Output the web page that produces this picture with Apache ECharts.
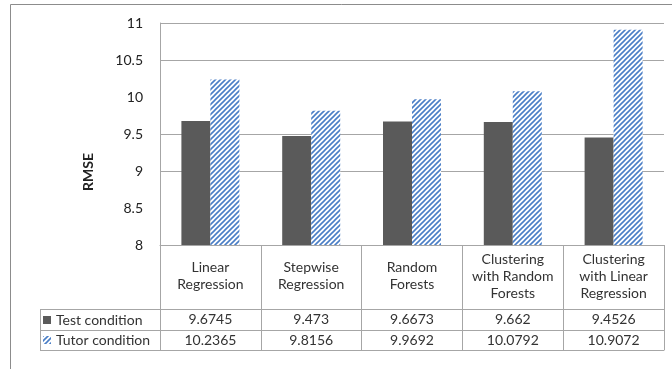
<!DOCTYPE html>
<html>
<head>
<meta charset="utf-8">
<script src="https://cdn.jsdelivr.net/npm/echarts@6/dist/echarts.min.js"></script>
<style>
  html, body { margin: 0; padding: 0; background: #fff; }
  #chart { width: 672px; height: 369px; }
</style>
</head>
<body>
<div id="chart"></div>
<script>
// Model names (label row of the data table)
const categories = [
  'Linear\nRegression',
  'Stepwise\nRegression',
  'Random\nForests',
  'Clustering\nwith Random\nForests',
  'Clustering\nwith Linear\nRegression'
];
const seriesNames = ['Test condition', 'Tutor condition'];
// RMSE per model
const testValues = [9.6745, 9.473, 9.6673, 9.662, 9.4526];
const tutorValues = [10.2365, 9.8156, 9.9692, 10.0792, 10.9072];
const valueText = [
  ['9.6745', '9.473', '9.6673', '9.662', '9.4526'],
  ['10.2365', '9.8156', '9.9692', '10.0792', '10.9072']
];
const yTicks = { min: 8, max: 11, step: 0.5 };

const FONT = 'Lato, "Open Sans", sans-serif';
const LINE = '#a6a6a6';
const DARK = '#5a5a5a';
const BLUE = '#4a7ec6';

// Diagonal "/" hatch tile used for the tutor-condition bars
function hatchPattern() {
  const s = 5;
  const c = document.createElement('canvas');
  c.width = s; c.height = s;
  const g = c.getContext('2d');
  g.fillStyle = '#ffffff';
  g.fillRect(0, 0, s, s);
  g.strokeStyle = BLUE;
  g.lineWidth = 1.6;
  g.beginPath();
  g.moveTo(-1, s + 1); g.lineTo(s + 1, -1);
  g.moveTo(-1, 1); g.lineTo(1, -1);
  g.moveTo(s - 1, s + 1); g.lineTo(s + 1, s - 1);
  g.stroke();
  return { image: c, repeat: 'repeat' };
}

const chart = echarts.init(document.getElementById('chart'), null, { renderer: 'canvas' });

function tableAxis(data, offset, tickLen, labelMargin, showLabel, fontSize) {
  return {
    type: 'category',
    gridIndex: 0,
    position: 'bottom',
    offset: offset,
    data: data,
    axisLine: { show: true, lineStyle: { color: LINE, width: 1 } },
    axisTick: { show: tickLen > 0, length: tickLen, interval: 0, alignWithLabel: false, lineStyle: { color: LINE } },
    axisLabel: {
      show: showLabel, interval: 0, margin: labelMargin, verticalAlign: 'middle',
      fontFamily: FONT, fontSize: fontSize, color: '#333', lineHeight: 17
    },
    splitLine: { show: false }
  };
}

const option = {
  backgroundColor: '#fff',
  animation: false,
  grid: { left: 160, top: 23, right: 8, bottom: 124, containLabel: false },
  legend: {
    orient: 'vertical',
    left: 43,
    top: 311,
    padding: 0,
    itemWidth: 8,
    itemHeight: 8,
    itemGap: 2,
    icon: 'rect',
    textStyle: { fontFamily: FONT, fontSize: 14, color: '#333', lineHeight: 18 },
    data: seriesNames
  },
  xAxis: [
    tableAxis(categories, 0, 64, 31, true, 14),
    tableAxis(valueText[0], 64, 21, 10, true, 14),
    tableAxis(valueText[1], 85, 20, 10, true, 14),
    tableAxis(categories.map(() => ''), 105, 0, 0, false, 14)
  ],
  yAxis: {
    type: 'value',
    min: yTicks.min,
    max: yTicks.max,
    interval: yTicks.step,
    axisLine: { show: true, lineStyle: { color: LINE } },
    axisTick: { show: false },
    axisLabel: {
      margin: 17, fontFamily: FONT, fontSize: 14, color: '#222',
      formatter: v => String(v)
    },
    splitLine: {
      show: true,
      lineStyle: { color: [LINE, 'rgba(0,0,0,0)', LINE, LINE, 'rgba(0,0,0,0)', LINE, LINE], width: 1 }
    }
  },
  series: [
    {
      name: seriesNames[0], type: 'bar', xAxisIndex: 0,
      data: testValues, barWidth: 29, barGap: '0%',
      itemStyle: { color: DARK }
    },
    {
      name: seriesNames[1], type: 'bar', xAxisIndex: 0,
      data: tutorValues, barWidth: 29, barGap: '0%',
      itemStyle: { color: hatchPattern() }
    }
  ],
  graphic: [
    { type: 'rect', silent: true, z: -1, shape: { x: 10.5, y: 4.5, width: 700, height: 420 },
      style: { fill: 'none', stroke: '#8c8c8c', lineWidth: 1 } },
    { type: 'text', x: 88, y: 172, rotation: Math.PI / 2,
      style: { text: 'RMSE', fontFamily: FONT, fontSize: 14, fontWeight: 'bold', fill: '#222',
               align: 'center', verticalAlign: 'middle' } },
    // legend-column cell borders of the data table
    { type: 'line', shape: { x1: 40, y1: 309.5, x2: 160, y2: 309.5 }, style: { stroke: LINE } },
    { type: 'line', shape: { x1: 40, y1: 330.5, x2: 160, y2: 330.5 }, style: { stroke: LINE } },
    { type: 'line', shape: { x1: 40, y1: 350.5, x2: 160, y2: 350.5 }, style: { stroke: LINE } },
    { type: 'line', shape: { x1: 40.5, y1: 309, x2: 40.5, y2: 351 }, style: { stroke: LINE } }
  ]
};

chart.setOption(option);
</script>
</body>
</html>
